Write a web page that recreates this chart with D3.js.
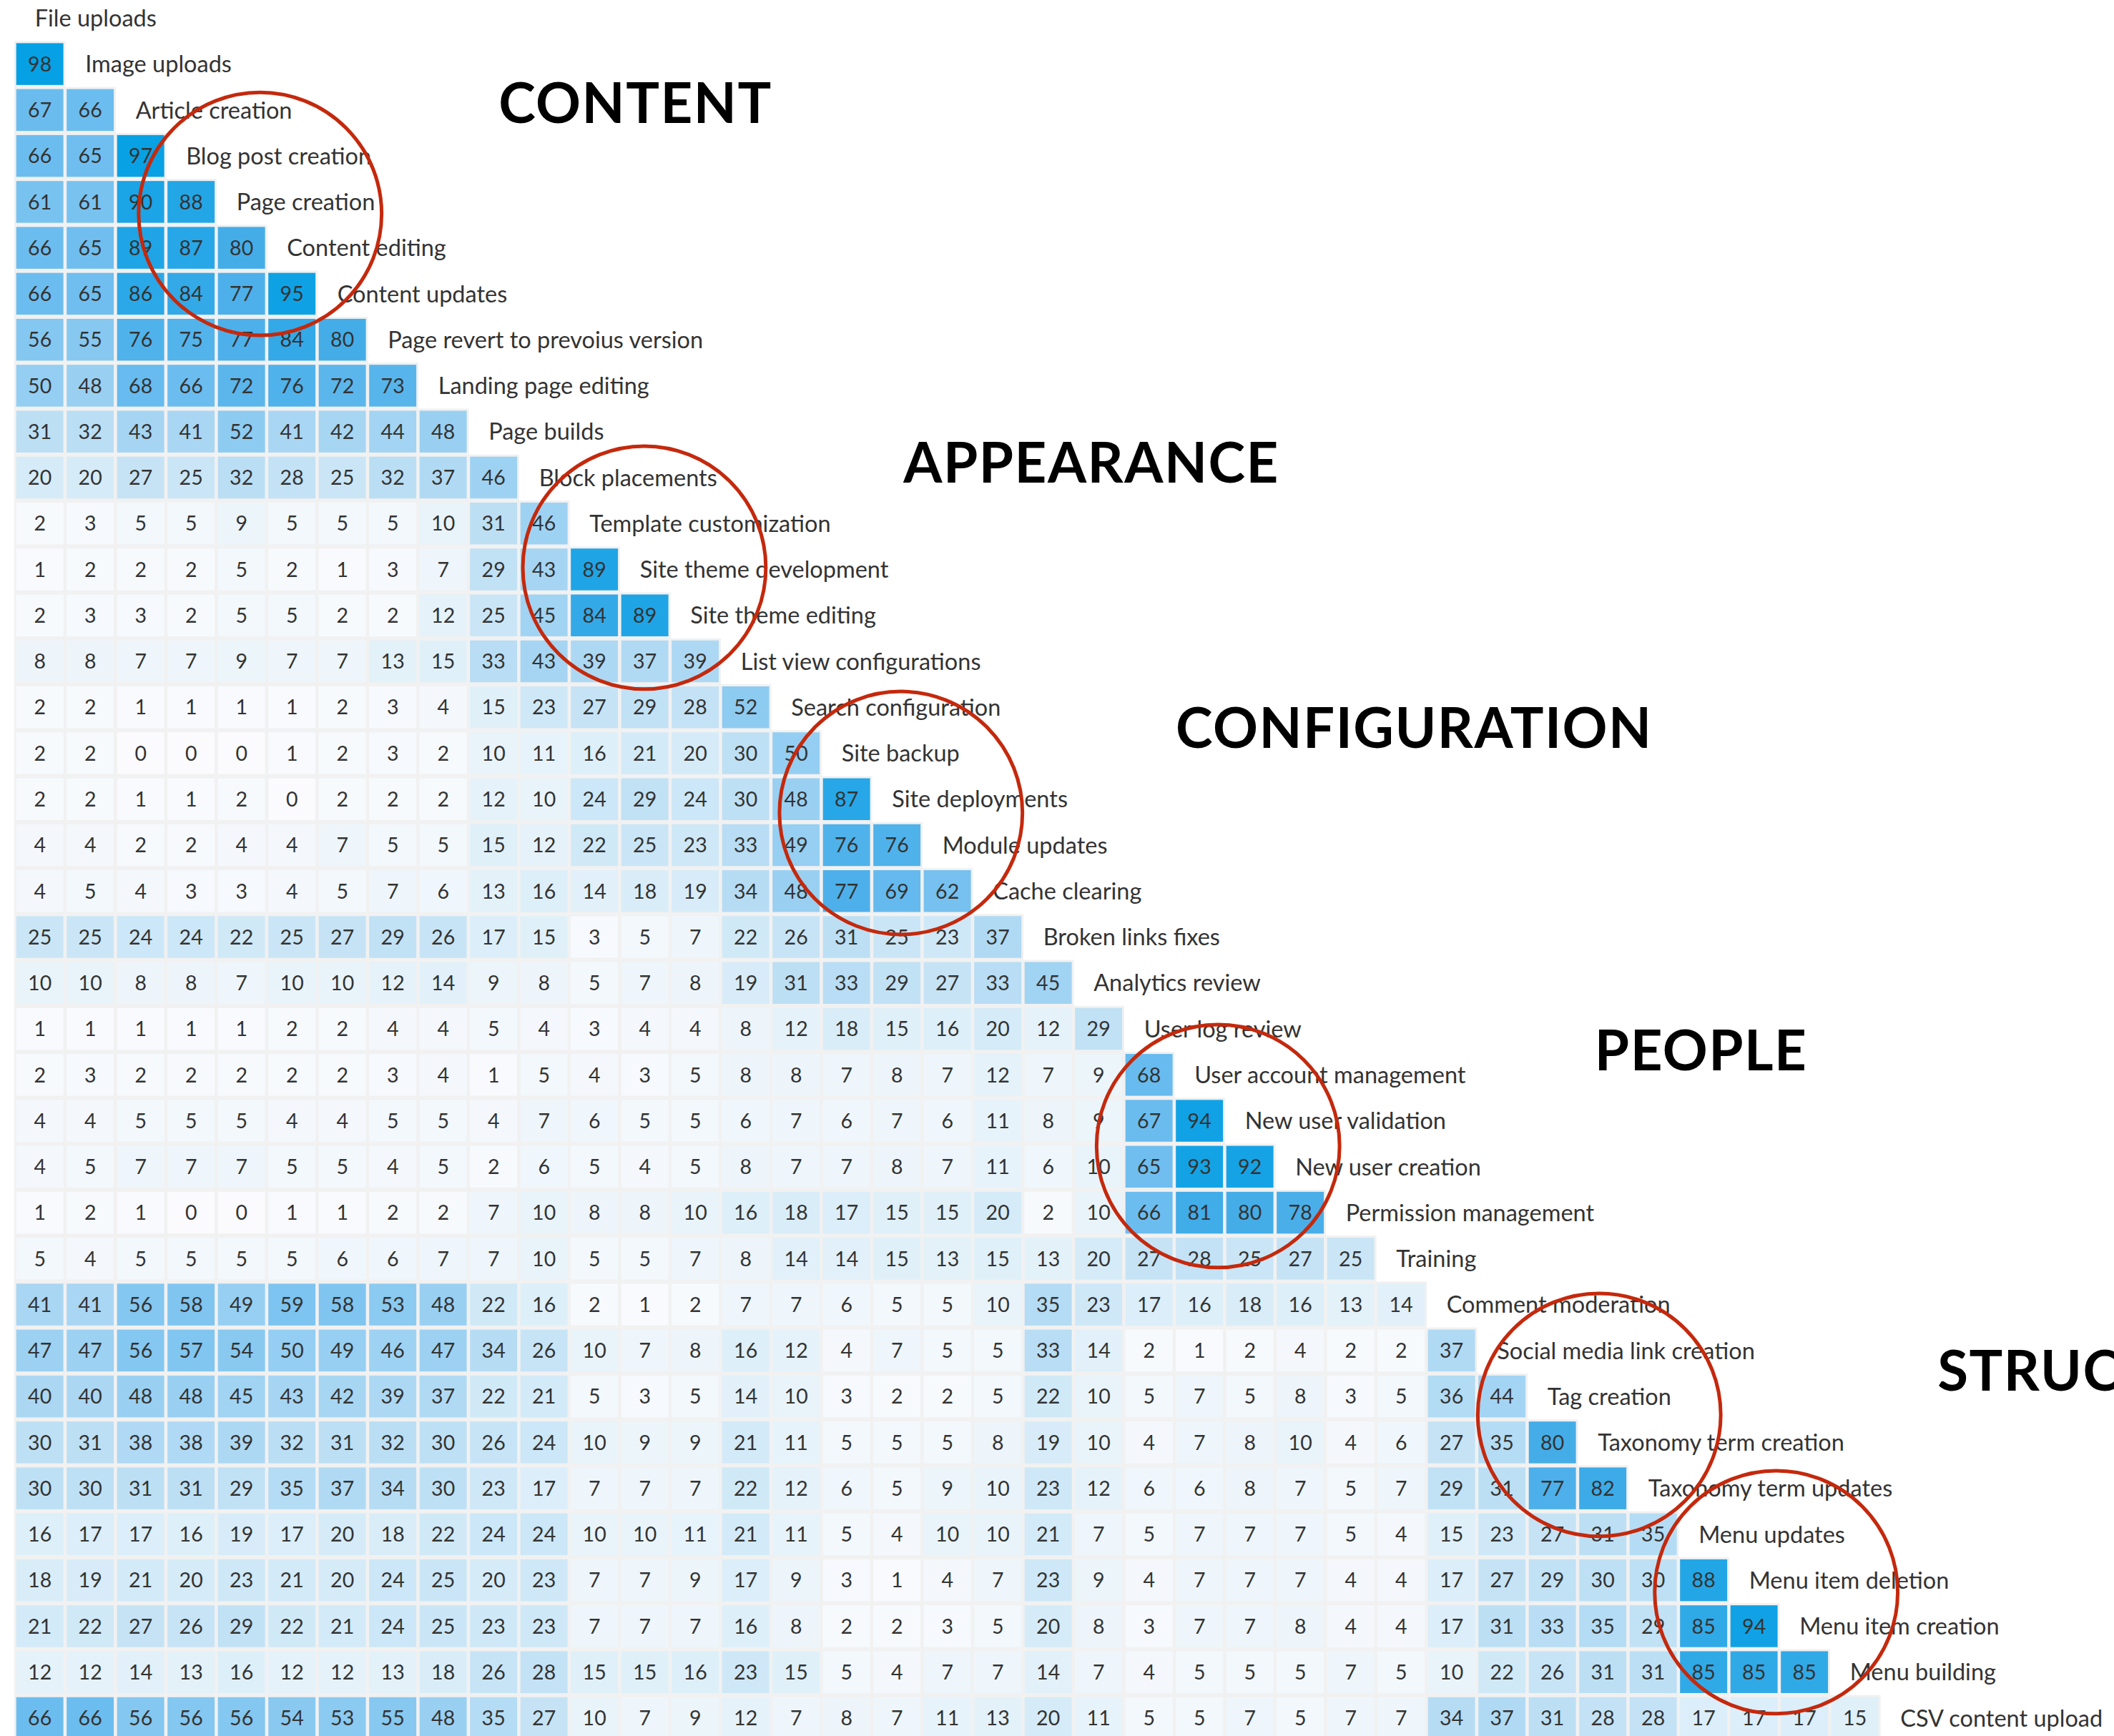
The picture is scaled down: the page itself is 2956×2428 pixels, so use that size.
<!DOCTYPE html>
<meta charset="utf-8">
<style>
  body { margin: 0; background: #fff; }
  svg { display: block; }
  .task { font-family: Lato, sans-serif; font-size: 32.5px; fill: #333; }
  .num { font-family: Lato, sans-serif; font-size: 28.5px; fill: #333; text-anchor: middle; }
  .group { font-family: Lato, sans-serif; font-weight: 700; font-size: 78px; letter-spacing: 1.5px; fill: #000; }
</style>
<body></body>
<script src="https://cdn.jsdelivr.net/npm/d3@7"></script>
<script>
  const width = 2956
  const height = 2428

  // task names, in matrix order (row i is compared with every task above it)
  const tasks = [
    "File uploads", "Image uploads", "Article creation", "Blog post creation", "Page creation",
    "Content editing", "Content updates", "Page revert to prevoius version", "Landing page editing",
    "Page builds", "Block placements", "Template customization", "Site theme development",
    "Site theme editing", "List view configurations", "Search configuration", "Site backup",
    "Site deployments", "Module updates", "Cache clearing", "Broken links fixes", "Analytics review",
    "User log review", "User account management", "New user validation", "New user creation",
    "Permission management", "Training", "Comment moderation", "Social media link creation",
    "Tag creation", "Taxonomy term creation", "Taxonomy term updates", "Menu updates",
    "Menu item deletion", "Menu item creation", "Menu building", "CSV content upload"
  ]

  // lower triangle of the similarity matrix (%)
  const scores = [
    [],
    [98],
    [67, 66],
    [66, 65, 97],
    [61, 61, 90, 88],
    [66, 65, 89, 87, 80],
    [66, 65, 86, 84, 77, 95],
    [56, 55, 76, 75, 77, 84, 80],
    [50, 48, 68, 66, 72, 76, 72, 73],
    [31, 32, 43, 41, 52, 41, 42, 44, 48],
    [20, 20, 27, 25, 32, 28, 25, 32, 37, 46],
    [2, 3, 5, 5, 9, 5, 5, 5, 10, 31, 46],
    [1, 2, 2, 2, 5, 2, 1, 3, 7, 29, 43, 89],
    [2, 3, 3, 2, 5, 5, 2, 2, 12, 25, 45, 84, 89],
    [8, 8, 7, 7, 9, 7, 7, 13, 15, 33, 43, 39, 37, 39],
    [2, 2, 1, 1, 1, 1, 2, 3, 4, 15, 23, 27, 29, 28, 52],
    [2, 2, 0, 0, 0, 1, 2, 3, 2, 10, 11, 16, 21, 20, 30, 50],
    [2, 2, 1, 1, 2, 0, 2, 2, 2, 12, 10, 24, 29, 24, 30, 48, 87],
    [4, 4, 2, 2, 4, 4, 7, 5, 5, 15, 12, 22, 25, 23, 33, 49, 76, 76],
    [4, 5, 4, 3, 3, 4, 5, 7, 6, 13, 16, 14, 18, 19, 34, 48, 77, 69, 62],
    [25, 25, 24, 24, 22, 25, 27, 29, 26, 17, 15, 3, 5, 7, 22, 26, 31, 25, 23, 37],
    [10, 10, 8, 8, 7, 10, 10, 12, 14, 9, 8, 5, 7, 8, 19, 31, 33, 29, 27, 33, 45],
    [1, 1, 1, 1, 1, 2, 2, 4, 4, 5, 4, 3, 4, 4, 8, 12, 18, 15, 16, 20, 12, 29],
    [2, 3, 2, 2, 2, 2, 2, 3, 4, 1, 5, 4, 3, 5, 8, 8, 7, 8, 7, 12, 7, 9, 68],
    [4, 4, 5, 5, 5, 4, 4, 5, 5, 4, 7, 6, 5, 5, 6, 7, 6, 7, 6, 11, 8, 9, 67, 94],
    [4, 5, 7, 7, 7, 5, 5, 4, 5, 2, 6, 5, 4, 5, 8, 7, 7, 8, 7, 11, 6, 10, 65, 93, 92],
    [1, 2, 1, 0, 0, 1, 1, 2, 2, 7, 10, 8, 8, 10, 16, 18, 17, 15, 15, 20, 2, 10, 66, 81, 80, 78],
    [5, 4, 5, 5, 5, 5, 6, 6, 7, 7, 10, 5, 5, 7, 8, 14, 14, 15, 13, 15, 13, 20, 27, 28, 25, 27, 25],
    [41, 41, 56, 58, 49, 59, 58, 53, 48, 22, 16, 2, 1, 2, 7, 7, 6, 5, 5, 10, 35, 23, 17, 16, 18, 16, 13, 14],
    [47, 47, 56, 57, 54, 50, 49, 46, 47, 34, 26, 10, 7, 8, 16, 12, 4, 7, 5, 5, 33, 14, 2, 1, 2, 4, 2, 2, 37],
    [40, 40, 48, 48, 45, 43, 42, 39, 37, 22, 21, 5, 3, 5, 14, 10, 3, 2, 2, 5, 22, 10, 5, 7, 5, 8, 3, 5, 36, 44],
    [30, 31, 38, 38, 39, 32, 31, 32, 30, 26, 24, 10, 9, 9, 21, 11, 5, 5, 5, 8, 19, 10, 4, 7, 8, 10, 4, 6, 27, 35, 80],
    [30, 30, 31, 31, 29, 35, 37, 34, 30, 23, 17, 7, 7, 7, 22, 12, 6, 5, 9, 10, 23, 12, 6, 6, 8, 7, 5, 7, 29, 31, 77, 82],
    [16, 17, 17, 16, 19, 17, 20, 18, 22, 24, 24, 10, 10, 11, 21, 11, 5, 4, 10, 10, 21, 7, 5, 7, 7, 7, 5, 4, 15, 23, 27, 31, 35],
    [18, 19, 21, 20, 23, 21, 20, 24, 25, 20, 23, 7, 7, 9, 17, 9, 3, 1, 4, 7, 23, 9, 4, 7, 7, 7, 4, 4, 17, 27, 29, 30, 30, 88],
    [21, 22, 27, 26, 29, 22, 21, 24, 25, 23, 23, 7, 7, 7, 16, 8, 2, 2, 3, 5, 20, 8, 3, 7, 7, 8, 4, 4, 17, 31, 33, 35, 29, 85, 94],
    [12, 12, 14, 13, 16, 12, 12, 13, 18, 26, 28, 15, 15, 16, 23, 15, 5, 4, 7, 7, 14, 7, 4, 5, 5, 5, 7, 5, 10, 22, 26, 31, 31, 85, 85, 85],
    [66, 66, 56, 56, 56, 54, 53, 55, 48, 35, 27, 10, 7, 9, 12, 7, 8, 7, 11, 13, 20, 11, 5, 5, 7, 5, 7, 7, 34, 37, 31, 28, 28, 17, 17, 17, 15]
  ]

  // group headings, anchored in column / row units of the grid
  const groupNames = ["CONTENT", "APPEARANCE", "CONFIGURATION", "PEOPLE", "STRUCTURE"]
  const groupCols = [9.6, 17.63, 23.03, 31.34, 38.14]
  const groupRows = [2.34, 10.17, 15.95, 22.96, 29.94]

  // red rings around the clusters, in column / row units
  const ringCols = [4.87, 12.49, 17.58, 23.87, 31.43, 34.94]
  const ringRows = [4.76, 12.46, 17.8, 25.05, 30.9, 34.76]
  const ringRadius = 2.41 // columns

  const n = tasks.length
  const colStep = 70.5
  const rowStep = 64.26
  const gridLeft = 20.4
  const gridTop = -6.8

  const x = d3.scaleBand()
    .domain(d3.range(n))
    .range([gridLeft, gridLeft + n * colStep])
    .paddingInner(0.065)
    .paddingOuter(0.0325)

  const y = d3.scaleBand()
    .domain(d3.range(n))
    .range([gridTop, gridTop + n * rowStep])
    .paddingInner(0.09)
    .paddingOuter(0.045)

  // continuous versions of the same grid, for annotations
  const xu = d3.scaleLinear().domain([0, n]).range(x.range())
  const yu = d3.scaleLinear().domain([0, n]).range(y.range())

  const color = d3.scaleLinear()
    .domain([0, 10, 20, 31, 45, 55, 67, 80, 90, 100])
    .range(["#fbfbfe", "#e9f4fa", "#d5ebf8", "#bcdff4", "#a1d3f3", "#86c8f0", "#6abcef", "#44ade8", "#1ba4e6", "#00a0e3"])

  const cells = scores.flatMap((row, r) => row.map((v, c) => ({ r, c, v })))

  const svg = d3.select("body").append("svg")
    .attr("width", width)
    .attr("height", height)

  // light grey backing behind each row of cells
  svg.append("g")
    .selectAll("rect")
    .data(d3.range(1, n))
    .enter()
    .append("rect")
    .attr("x", x(0) - 3)
    .attr("y", r => y(r) - 3)
    .attr("width", r => x(r - 1) + x.bandwidth() - x(0) + 6)
    .attr("height", y.bandwidth() + 6)
    .attr("fill", "#f1f1f1")

  const cell = svg.append("g")
    .selectAll("g")
    .data(cells)
    .enter()
    .append("g")
    .attr("transform", d => `translate(${x(d.c)}, ${y(d.r)})`)

  cell.append("rect")
    .attr("width", x.bandwidth())
    .attr("height", y.bandwidth())
    .attr("fill", d => color(d.v))

  cell.append("text")
    .attr("class", "num")
    .attr("x", x.bandwidth() / 2)
    .attr("y", y.bandwidth() / 2)
    .attr("dy", "0.36em")
    .text(d => d.v)

  // task names sit on the diagonal
  svg.append("g")
    .selectAll("text")
    .data(tasks)
    .enter()
    .append("text")
    .attr("class", "task")
    .attr("x", (d, i) => x(i) + 26)
    .attr("y", (d, i) => y(i) + y.bandwidth() / 2)
    .attr("dy", "0.36em")
    .text(d => d)

  svg.append("g")
    .selectAll("text")
    .data(groupNames)
    .enter()
    .append("text")
    .attr("class", "group")
    .attr("x", (d, i) => xu(groupCols[i]))
    .attr("y", (d, i) => yu(groupRows[i]))
    .attr("dy", "0.36em")
    .text(d => d)

  svg.append("g")
    .selectAll("circle")
    .data(ringCols)
    .enter()
    .append("circle")
    .attr("cx", d => xu(d))
    .attr("cy", (d, i) => yu(ringRows[i]))
    .attr("r", xu(ringRadius) - xu(0))
    .attr("fill", "none")
    .attr("stroke", "#c4290d")
    .attr("stroke-width", 5)
</script>
